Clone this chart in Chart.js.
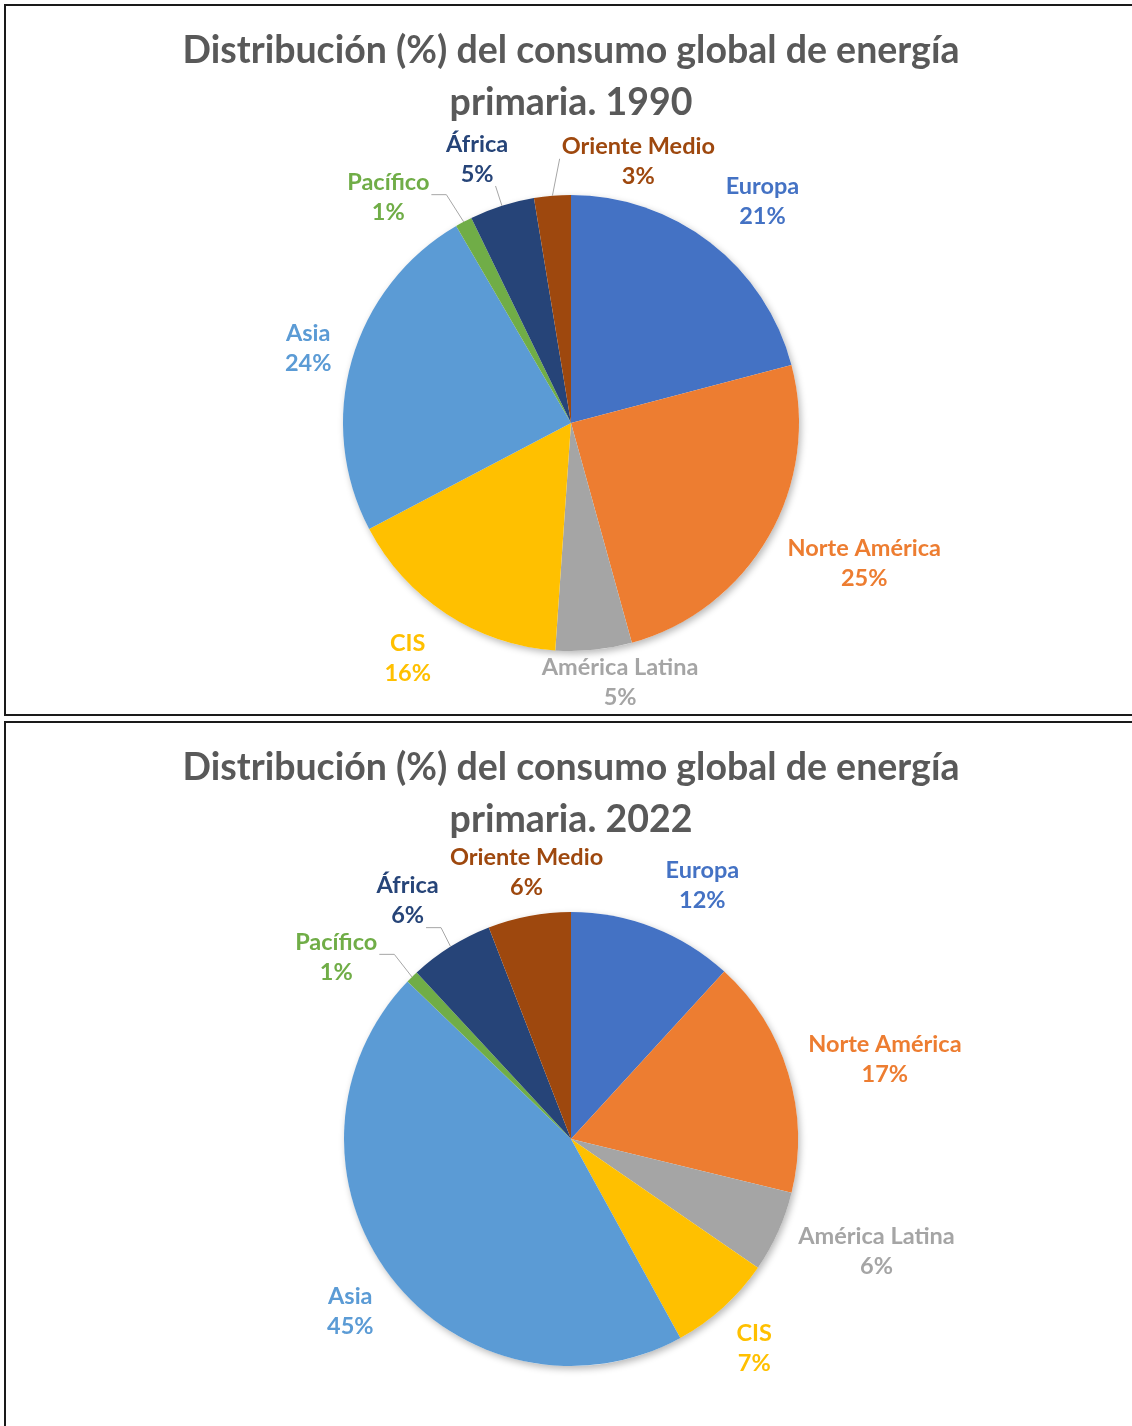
<!DOCTYPE html>
<html><head><meta charset="utf-8">
<script src="https://cdn.jsdelivr.net/npm/chart.js@4/dist/chart.umd.min.js"></script>
<style>
html,body{margin:0;padding:0;background:#fff;}
body{width:1132px;height:1426px;overflow:hidden;position:relative;font-family:Lato,'Open Sans',sans-serif;}
.box{position:absolute;left:4px;width:1140px;border:2px solid #1a1a1a;box-sizing:border-box;}
#box1{top:4px;height:712px;}
#box2{top:721px;height:720px;}
.title{position:absolute;left:0;width:1142px;text-align:center;color:#595959;font-weight:700;font-size:37.5px;line-height:52px;white-space:nowrap;}
canvas{position:absolute;}
</style></head>
<body>
<div class="box" id="box1"></div>
<div class="box" id="box2"></div>
<canvas id="c1" width="1126" height="708" style="left:6px;top:6px"></canvas>
<canvas id="c2" width="1126" height="703" style="left:6px;top:723px"></canvas>
<div class="title" id="t1" style="top:23px">Distribución (%) del consumo global de energía<br>primaria. 1990</div>
<div class="title" id="t2" style="top:740px">Distribución (%) del consumo global de energía<br>primaria. 2022</div>
<script>
// ---- data ----
const categories = ['Europa','Norte América','América Latina','CIS','Asia','Pacífico','África','Oriente Medio'];
const share1990 = [20.9, 24.8, 5.4, 16.2, 24.3, 1.2, 4.6, 2.6];
const share2022 = [11.8, 17.0, 5.8, 7.4, 45.2, 0.9, 6.0, 5.9];
const colors = ['#4472C4','#ED7D31','#A5A5A5','#FFC000','#5B9BD5','#70AD47','#264478','#9E480E'];

// ---- label layout (not data) ----
const labelFont = 'bold 23.5px Lato, "Open Sans", sans-serif';
const nudges1990 = [[15,7],[11,-22],[21,-19],[-10,1],[2,1],[-47,29],[-9,3],[90,16]];
const nudges2022 = [[29,10],[2,15],[7,-21],[-2,5],[1,3],[-30,27],[-13,2],[8,13]];
const leaders1990 = [false,false,false,false,false,true,true,true];
const leaders2022 = [false,false,false,false,false,true,true,false];

const labelPlugin = {
  id:'outLabels',
  beforeDatasetsDraw(chart){
    const arc = chart.getDatasetMeta(0).data[0];
    const p = arc.getProps(['x','y','outerRadius'], true);
    const ctx = chart.ctx;
    ctx.save();
    ctx.shadowColor = 'rgba(0,0,0,0.28)';
    ctx.shadowBlur = 7; ctx.shadowOffsetX = 2; ctx.shadowOffsetY = 3;
    ctx.beginPath(); ctx.arc(p.x, p.y, p.outerRadius, 0, Math.PI*2);
    ctx.fillStyle = '#fff'; ctx.fill();
    ctx.restore();
  },
  afterDatasetsDraw(chart, args, opts){
    const ctx = chart.ctx;
    const ds = chart.data.datasets[0];
    const total = ds.data.reduce((a,b)=>a+b,0);
    const meta = chart.getDatasetMeta(0);
    ctx.save();
    ctx.font = labelFont;
    ctx.textAlign = 'center'; ctx.textBaseline = 'middle';
    meta.data.forEach((arc, i) => {
      const p = arc.getProps(['x','y','startAngle','endAngle','outerRadius'], true);
      const mid = (p.startAngle + p.endAngle)/2;
      const cx = Math.cos(mid), sy = Math.sin(mid);
      const lines = [chart.data.labels[i], Math.round(ds.data[i]/total*100) + '%'];
      const widths = lines.map(t => ctx.measureText(t).width);
      const halfW = Math.max(...widths)/2, halfH = 26;
      const dist = p.outerRadius + 18 + Math.abs(cx)*halfW + Math.abs(sy)*halfH;
      const nd = opts.nudges[i];
      const lx = p.x + cx*dist + nd[0], ly = p.y + sy*dist + nd[1];
      const lineY = [ly - 15, ly + 15];
      if (opts.leaders[i]) {
        const P = {x: p.x + cx*p.outerRadius, y: p.y + sy*p.outerRadius};
        let best = null;
        lineY.forEach((yy, k) => {
          const l = lx - widths[k]/2 - 2, r = lx + widths[k]/2 + 2, t = yy - 12, b = yy + 12;
          const qx = Math.min(Math.max(P.x, l), r), qy = Math.min(Math.max(P.y, t), b);
          const d = Math.hypot(P.x-qx, P.y-qy);
          if (!best || d < best.d) best = {x:qx, y:qy, d};
        });
        ctx.strokeStyle = '#A6A6A6'; ctx.lineWidth = 1;
        ctx.beginPath();
        ctx.moveTo(best.x, best.y);
        const dx = P.x - best.x, dy = P.y - best.y;
        if (Math.abs(dx) > Math.abs(dy)) ctx.lineTo(best.x + Math.sign(dx)*15, best.y);
        ctx.lineTo(P.x, P.y);
        ctx.stroke();
      }
      ctx.fillStyle = colors[i];
      lines.forEach((t,k) => ctx.fillText(t, lx, lineY[k]));
    });
    ctx.restore();
  }
};

function makeChart(id, values, pad, nudges, leaders){
  return new Chart(document.getElementById(id), {
    type:'pie',
    data:{labels:categories, datasets:[{data:values, backgroundColor:colors, borderWidth:0}]},
    options:{
      responsive:false, animation:false,
      layout:{padding:pad},
      plugins:{legend:{display:false}, tooltip:{enabled:false}, title:{display:false},
        outLabels:{nudges, leaders}}
    },
    plugins:[labelPlugin]
  });
}
makeChart('c1', share1990, {top:189, bottom:63, left:337, right:333}, nudges1990, leaders1990);
makeChart('c2', share2022, {top:189, bottom:60, left:338, right:334}, nudges2022, leaders2022);
</script>
</body></html>
